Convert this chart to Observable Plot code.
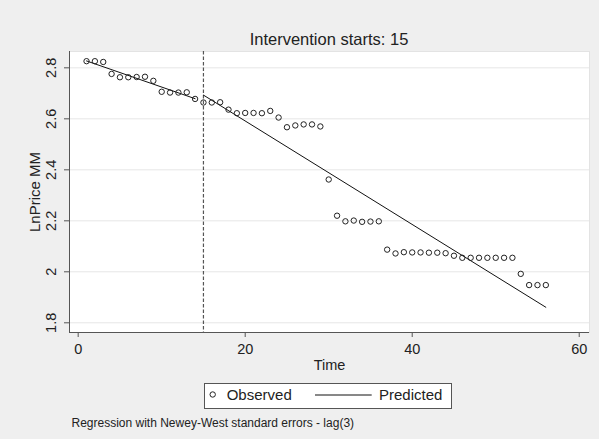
<!DOCTYPE html>
<html>
<head>
<meta charset="utf-8">
<script src="https://cdn.jsdelivr.net/npm/d3@7"></script>
<script src="https://cdn.jsdelivr.net/npm/@observablehq/plot@0.6"></script>
<style>
  html, body { margin: 0; padding: 0; background: #efefef; }
  #page { position: relative; width: 599px; height: 439px; background: #efefef; overflow: hidden;
          font-family: "Liberation Sans", Arial, sans-serif; color: #222; }
  .abs { position: absolute; white-space: nowrap; line-height: 1; }
  #chart { position: absolute; left: 0; top: 41px; }
  #legend { position: absolute; left: 204px; top: 383px; width: 248px; height: 25.5px; box-sizing: border-box;
            background: #fff; border: 1px solid #555; }
</style>
</head>
<body>
<div id="page">
  <div class="abs" id="title" style="left:69px; width:520px; top:31px; font-size:16.5px; text-align:center;"></div>
  <div id="chart"></div>
  <div id="legend"></div>
  <svg class="abs" style="left:0;top:0;overflow:visible" width="599" height="439" id="legendMarks"></svg>
  <div class="abs" id="obsLabel" style="left:226.7px; top:387px; font-size:15px;"></div>
  <div class="abs" id="predLabel" style="left:379px; top:387px; font-size:15px;"></div>
  <div class="abs" id="caption" style="left:71.5px; top:416.5px; font-size:12px;"></div>
</div>
<script>
// ---- data ----
const time = [1,2,3,4,5,6,7,8,9,10,11,12,13,14,15,16,17,18,19,20,21,22,23,24,25,26,27,28,
              29,30,31,32,33,34,35,36,37,38,39,40,41,42,43,44,45,46,47,48,49,50,51,52,53,54,55,56];
const lnPrice = [2.826,2.826,2.823,2.776,2.763,2.763,2.764,2.765,2.749,2.706,2.703,2.703,2.704,2.678,
                 2.664,2.664,2.665,2.636,2.622,2.623,2.623,2.622,2.631,2.605,2.567,2.574,2.578,2.578,
                 2.570,2.362,2.220,2.198,2.201,2.196,2.197,2.198,2.087,2.072,2.077,2.076,2.076,2.075,
                 2.075,2.073,2.063,2.055,2.055,2.055,2.055,2.055,2.055,2.055,1.992,1.948,1.948,1.948];
const predTime = [1, 14, 15, 56];
const predValue = [2.827, 2.679, 2.693, 1.861];
const predPhase = ["pre", "pre", "post", "post"];
const interventionTime = [15];

const xTicks = [0, 20, 40, 60];
const yTicks = [1.8, 2.0, 2.2, 2.4, 2.6, 2.8];
const yTickLabels = ["1.8", "2", "2.2", "2.4", "2.6", "2.8"];

const titleText = "Intervention starts: 15";
const xLabel = "Time";
const yLabel = "LnPrice MM";
const legendLabels = ["Observed", "Predicted"];
const captionText = "Regression with Newey-West standard errors - lag(3)";

// ---- tables built from the arrays ----
const observed = time.map((t, i) => ({t, v: lnPrice[i]}));
const predicted = predTime.map((t, i) => ({t, v: predValue[i], phase: predPhase[i]}));

const xDomain = [-1.04, 61.23];
const yDomain = [1.762, 2.864];

const chart = Plot.plot({
  width: 599,
  height: 334,
  marginTop: 10,
  marginBottom: 43,
  marginLeft: 69,
  marginRight: 10,
  x: {domain: xDomain},
  y: {domain: yDomain},
  style: {fontFamily: "'Liberation Sans', Arial, sans-serif", background: "transparent", color: "#222"},
  marks: [
    Plot.frame({fill: "white", stroke: "#e3e3e3"}),
    Plot.gridY(yTicks, {stroke: "#e6e6e6", strokeOpacity: 1}),
    Plot.ruleX(interventionTime, {stroke: "#555", strokeWidth: 1.2, strokeDasharray: "3.5,2"}),
    Plot.line(predicted, {x: "t", y: "v", z: "phase", stroke: "#111", strokeWidth: 1}),
    Plot.dot(observed, {x: "t", y: "v", r: 2.7, stroke: "#222", strokeWidth: 1, fill: "none"}),
    Plot.ruleY([yDomain[0]], {stroke: "#555"}),
    Plot.ruleX([xDomain[0]], {stroke: "#555"}),
    Plot.axisX(xTicks, {tickSize: 5, tickPadding: 6, fontSize: 14.5, label: null,
                        tickFormat: d => String(d), stroke: "#555", fill: "#222"}),
    Plot.axisY(yTicks, {tickSize: 5, tickFormat: () => "", label: null, stroke: "#555"}),
    Plot.text(yTicks, {y: d => d, frameAnchor: "left", text: (d, i) => yTickLabels[i], rotate: -90,
                       dx: -14, lineAnchor: "bottom", textAnchor: "middle", fontSize: 14.5, fill: "#222"}),
    Plot.text([xLabel], {frameAnchor: "bottom", dy: 37.3, lineAnchor: "bottom", fontSize: 14.5, fill: "#222"}),
    Plot.text([yLabel], {frameAnchor: "left", rotate: -90, dx: -30, lineAnchor: "bottom",
                         textAnchor: "middle", fontSize: 15, fill: "#222"})
  ]
});
document.getElementById("chart").appendChild(chart);

document.getElementById("title").textContent = titleText;
document.getElementById("obsLabel").textContent = legendLabels[0];
document.getElementById("predLabel").textContent = legendLabels[1];
document.getElementById("caption").textContent = captionText;

// legend keys
const lm = d3.select("#legendMarks");
lm.append("circle").attr("cx", 212.7).attr("cy", 394.5).attr("r", 2.7)
  .attr("fill", "none").attr("stroke", "#222").attr("stroke-width", 1);
lm.append("line").attr("x1", 315).attr("x2", 371.7).attr("y1", 395).attr("y2", 395)
  .attr("stroke", "#111").attr("stroke-width", 1);
</script>
</body>
</html>
